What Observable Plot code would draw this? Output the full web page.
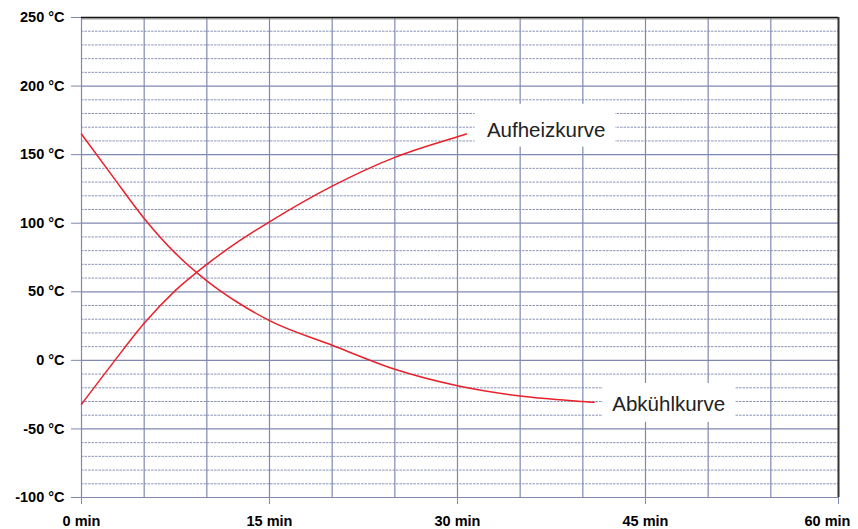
<!DOCTYPE html>
<html>
<head>
<meta charset="utf-8">
<script src="https://cdn.jsdelivr.net/npm/d3@7"></script>
<script src="https://cdn.jsdelivr.net/npm/@observablehq/plot@0.6"></script>
<style>
  html, body { margin: 0; padding: 0; background: #fff; }
  #chart { width: 858px; height: 529px; }
</style>
</head>
<body>
<div id="chart"></div>
<script>
// Heating curve (Aufheizkurve): time in minutes, temperature in °C
const heatTime = [0, 2.5, 5, 7.5, 10, 12.5, 15, 20, 25, 30, 30.7];
const heatTemp = [-32, -2, 27, 51, 70, 86.5, 101, 127, 148, 163, 165];

// Cooling curve (Abkühlkurve)
const coolTime = [0, 2.5, 5, 7.5, 10, 12.5, 15, 20, 25, 30, 35, 40, 40.9];
const coolTemp = [165, 134, 103.5, 78, 58, 42, 29, 11, -6.5, -18.5, -26, -30, -30.6];

// Axis ticks
const xTicks = [0, 15, 30, 45];
const xEnd = 60;
const xFrameEnd = 60.4;
const xGrid = [0, 5, 10, 15, 20, 25, 30, 35, 40, 45, 50, 55];
const yMajor = [-100, -50, 0, 50, 100, 150, 200, 250];
const yMinor = [-90, -80, -70, -60, -40, -30, -20, -10, 10, 20, 30, 40, 60, 70, 80, 90,
                110, 120, 130, 140, 160, 170, 180, 190, 210, 220, 230, 240];

// Curve labels (position and white background box, in data units)
const labelText = ["Aufheizkurve", "Abkühlkurve"];
const labelX = [32.35, 42.35];
const labelY = [167.5, -32];
const boxX1 = [31.4, 41.6];
const boxX2 = [42.6, 52.2];
const boxY1 = [155.5, -45.2];
const boxY2 = [186.7, -16.8];

const heat = heatTime.map((t, i) => ({t, T: heatTemp[i]}));
const cool = coolTime.map((t, i) => ({t, T: coolTemp[i]}));
const labels = labelText.map((text, i) => ({
  text, x: labelX[i], y: labelY[i], x1: boxX1[i], x2: boxX2[i], y1: boxY1[i], y2: boxY2[i]
}));

const grid = "#8088b0";
const font = "'Liberation Sans', Arial, Helvetica, sans-serif";

const chart = Plot.plot({
  width: 858,
  height: 529,
  marginLeft: 81,
  marginRight: 20,
  marginTop: 17,
  marginBottom: 32,
  style: {fontFamily: font, background: "#fff", overflow: "visible"},
  x: {domain: [0, xFrameEnd]},
  y: {domain: [-100, 250]},
  marks: [
    Plot.ruleY(yMinor, {stroke: grid, strokeWidth: 1, strokeDasharray: "2.5,1", strokeOpacity: 0.9}),
    Plot.ruleX(xGrid, {stroke: grid, strokeWidth: 1.2}),
    Plot.ruleY(yMajor, {stroke: grid, strokeWidth: 1.2}),
    Plot.axisY({ticks: yMajor, tickSize: 10, tickPadding: 7, stroke: grid,
      tickFormat: d => `${d} °C`, fontSize: 14.5, fontWeight: "bold", fill: "#000"}),
    Plot.axisX({ticks: [...xTicks, xFrameEnd], tickSize: 7, stroke: grid, tickFormat: () => ""}),
    Plot.axisX({ticks: xTicks, tickSize: 0, tickPadding: 18,
      tickFormat: d => `${d} min`, fontSize: 14.5, fontWeight: "bold", fill: "#000"}),
    Plot.axisX({ticks: [xEnd], tickSize: 0, tickPadding: 18, dx: -6,
      tickFormat: d => `${d} min`, fontSize: 14.5, fontWeight: "bold", fill: "#000"}),
    Plot.ruleY([250], {stroke: "#999", strokeWidth: 1, dy: 1.5}),
    Plot.ruleY([250], {stroke: "#111", strokeWidth: 1.5}),
    Plot.ruleX([xFrameEnd], {stroke: "#333", strokeWidth: 2}),
    Plot.line(heat, {x: "t", y: "T", stroke: "#e8212b", strokeWidth: 1.5, curve: "monotone-x"}),
    Plot.line(cool, {x: "t", y: "T", stroke: "#e8212b", strokeWidth: 1.5, curve: "monotone-x"}),
    Plot.rect(labels, {x1: "x1", x2: "x2", y1: "y1", y2: "y2", fill: "#fff"}),
    Plot.text(labels, {x: "x", y: "y", text: "text", textAnchor: "start", lineAnchor: "middle",
      fontSize: 20.5, fill: "#222"})
  ]
});
document.getElementById("chart").appendChild(chart);
</script>
</body>
</html>
